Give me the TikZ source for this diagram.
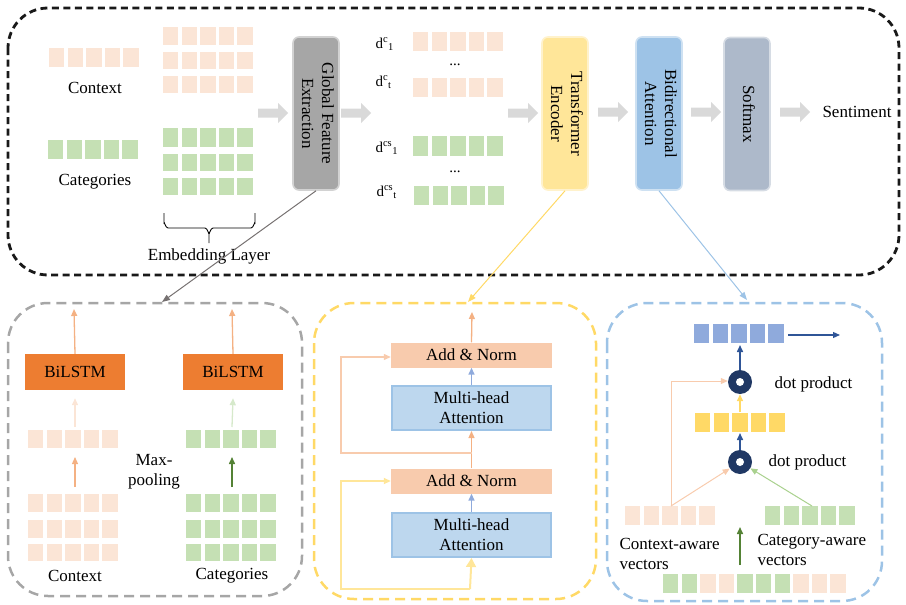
\documentclass[tikz,border=0pt]{standalone}
\usepackage{fontspec}
\setmainfont{Liberation Serif}
\usetikzlibrary{arrows.meta,calc}
\definecolor{cO}{HTML}{FBE5D6}
\definecolor{cG}{HTML}{C5E0B4}
\definecolor{cBi}{HTML}{ED7D31}
\definecolor{cAN}{HTML}{F8CBAD}
\definecolor{cMHA}{HTML}{BDD7EE}
\definecolor{cMHAb}{HTML}{9DC3E6}
\definecolor{cYr}{HTML}{FFD966}
\definecolor{cBr}{HTML}{8FAADC}
\definecolor{cNavyA}{HTML}{2F5597}
\definecolor{cNavy}{HTML}{203864}
\definecolor{cGFE}{HTML}{A6A6A6}
\definecolor{cTE}{HTML}{FFE699}
\definecolor{cBA}{HTML}{9DC3E6}
\definecolor{cSM}{HTML}{ADB9CA}
\definecolor{cArr}{HTML}{D9D9D9}
\definecolor{cOrA}{HTML}{F4B183}
\definecolor{cDG}{HTML}{548235}
\definecolor{cGline}{HTML}{A9D18E}
\definecolor{cGrayLine}{HTML}{767171}
\newcommand\cellrow[5]{\foreach \k in {1,...,#4}{\fill[#3] ({#1+(\k-1)*18.6},#2) rectangle ++(15.4,#5);}}
\newcommand\blockarrow[2]{\fill[cArr] (#1,#2-4.5) -- ++(20,0) -- ++(0,-5.5) -- ++(10,10) -- ++(-10,10) -- ++(0,-5.5) -- ++(-20,0) -- cycle;}
\newcommand\vtext[1]{\rotatebox{-90}{\begin{tabular}{@{}c@{}}#1\end{tabular}}}
\begin{document}
\begin{tikzpicture}[x=1pt,y=-1pt,
  every node/.style={font=\fontsize{17}{20}\selectfont, text=black},
  tall/.style={rounded corners=6pt, minimum width=46pt, minimum height=153pt, inner sep=0pt, line width=1.6pt},
  small/.style={font=\fontsize{15}{18}\selectfont},
  anbox/.style={fill=cAN, minimum width=161pt, minimum height=25pt, inner sep=0pt},
  mhabox/.style={fill=cMHA, draw=cMHAb, line width=2pt, minimum width=159pt, minimum height=44pt, inner sep=0pt, align=center},
  bibox/.style={fill=cBi, minimum width=100pt, minimum height=36pt, inner sep=0pt},
  dot/.style={circle, fill=cNavy, minimum size=24pt, inner sep=0pt},
  tip/.style={-{Triangle[length=7pt,width=6pt]}},
  arOr/.style={tip, draw=cOrA, line width=1.3pt},
  arOrL/.style={tip, draw=cAN, line width=1.2pt},
  arFO/.style={tip, draw=cO, line width=1.3pt},
  arFG/.style={tip, draw=cG!70!white, line width=1.3pt},
  arDG/.style={tip, draw=cDG, line width=1.5pt},
  arBl/.style={tip, draw=cBr, line width=1.5pt},
  arNv/.style={tip, draw=cNavyA, line width=1.5pt},
  arYl/.style={tip, draw=cYr, line width=1.5pt},
  arGl/.style={tip, draw=cGline, line width=1pt},
]
\useasboundingbox (0,0) rectangle (906,605);
% ===== top box =====
\draw[black!90, line width=2.8pt, dash pattern=on 7pt off 4.5pt, rounded corners=40pt] (8,8) rectangle (899,275);
\cellrow{49}{48}{cO}{5}{19}
\cellrow{163}{27}{cO}{5}{18}
\cellrow{163}{52}{cO}{5}{17}
\cellrow{163}{76}{cO}{5}{17}
\cellrow{48}{140}{cG}{5}{19}
\cellrow{163}{128}{cG}{5}{18.5}
\cellrow{163}{154}{cG}{5}{17}
\cellrow{163}{178}{cG}{5}{17}
\node (ctx) at (95,88) {Context};
\node (cat) at (95,182) {Categories};
\draw[line width=0.9pt] (164,213) -- (164,223) to[out=90,in=180] (168,228) -- (205,228) to[out=0,in=-90] (209,233) -- (209,243);
\draw[line width=0.9pt] (209,233) to[out=-90,in=180] (213,228) -- (251,228) to[out=0,in=90] (255,223) -- (255,213);
\node (emb) at (209,256) {Embedding Layer};
\blockarrow{258}{113}
\node[tall, fill=cGFE, draw=cGFE!50!white] (gfe) at (316,113.5) {\vtext{Global Feature\\Extraction}};
\blockarrow{341}{113}
\node[small, anchor=west] (d1) at (372,44) {d\textsuperscript{c}\textsubscript{1}};
\node[small, anchor=west] (d2) at (372,82) {d\textsuperscript{c}\textsubscript{t}};
\node[small, anchor=west] (d3) at (372,148) {d\textsuperscript{cs}\textsubscript{1}};
\node[small, anchor=west] (d4) at (373,192) {d\textsuperscript{cs}\textsubscript{t}};
\cellrow{413}{32}{cO}{5}{19}
\cellrow{413}{78}{cO}{5}{19}
\cellrow{413}{136}{cG}{5}{20}
\cellrow{414}{186}{cG}{5}{19}
\node[small] (el1) at (455,65) {...};
\node[small] (el2) at (455,172) {...};
\blockarrow{508}{113}
\node[tall, fill=cTE, draw=cTE!50!white] (te) at (565,113.5) {\vtext{Transformer\\Encoder}};
\blockarrow{598}{112}
\node[tall, fill=cBA, draw=cBA!50!white] (ba) at (659,113.5) {\vtext{Bidirectional\\Attention}};
\blockarrow{691}{112}
\node[tall, fill=cSM, draw=cSM!50!white] (sm) at (747,114) {\vtext{Softmax}};
\blockarrow{780}{112}
\node (sent) at (857,112) {Sentiment};
% ===== connectors between levels =====
\coordinate (gin) at (162,302);
\coordinate (yin) at (468,302);
\coordinate (bin) at (747,300);
\draw[cGrayLine, line width=1pt, -{Triangle[length=8pt,width=6pt]}] (gfe.south) -- (gin);
\draw[cYr, line width=1pt, -{Triangle[length=8pt,width=6pt]}] (te.south) -- (yin);
\draw[cBA, line width=1pt, -{Triangle[length=8pt,width=6pt]}] (ba.south) -- (bin);
% ===== bottom-left box =====
\draw[cGFE, line width=2.5pt, dash pattern=on 10pt off 6pt, rounded corners=40pt] (8,303) rectangle (302,596);
\node[bibox] (bl1) at (75,372) {BiLSTM};
\node[bibox] (bl2) at (233,372) {BiLSTM};
\cellrow{28}{430}{cO}{5}{18}
\cellrow{28}{494}{cO}{5}{18}
\cellrow{28}{520}{cO}{5}{18}
\cellrow{28}{544}{cO}{5}{17}
\cellrow{186}{430}{cG}{5}{18}
\cellrow{186}{494}{cG}{5}{18}
\cellrow{186}{520}{cG}{5}{18}
\cellrow{186}{544}{cG}{5}{17}
\coordinate (o1) at (74,309);
\coordinate (o2) at (232,309);
\draw[arOr] (bl1.north) -- (o1);
\draw[arOr] (bl2.north) -- (o2);
\coordinate (pl) at (75,427);
\coordinate (pr) at (232,427);
\draw[arFO] (pl) -- ($(bl1.south)+(0,8)$);
\draw[arFG] (pr) -- ($(bl2.south)+(0,8)$);
\coordinate (ql) at (75,487);
\coordinate (ql2) at (75,457);
\coordinate (qr) at (232,487);
\coordinate (qr2) at (232,457);
\draw[arOr] (ql) -- (ql2);
\draw[arDG] (qr) -- (qr2);
\node[align=center] (mp) at (154,472) {Max-\\pooling};
\node (ctx2) at (75,576) {Context};
\node (cat2) at (232,576) {Categories};
% ===== middle box =====
\draw[cYr, line width=2.5pt, dash pattern=on 10pt off 6pt, rounded corners=40pt] (314,303) rectangle (596,599);
\node[anbox] (an1) at (471.5,355) {Add \& Norm};
\node[mhabox] (mha1) at (471.5,408) {Multi-head\\Attention};
\node[anbox] (an2) at (471.5,481) {Add \& Norm};
\node[mhabox] (mha2) at (471.5,535) {Multi-head\\Attention};
\coordinate (eout) at (472,312);
\coordinate (skip1) at (472,453);
\coordinate (ein) at (470,589);
\draw[arOr] (an1.north) -- (eout);
\draw[arBl] (mha1.north) -- (an1.south);
\draw[arBl] (mha2.north) -- (an2.south);
\draw[arOr] (an2.north) -- (mha1.south);
\draw[arOrL] (skip1) -- (341,453) |- ($(an1.west)+(0,2)$);
\draw[cTE, line width=2pt, -{Triangle[length=9pt,width=10pt]}] (ein) -- (mha2.south);
\draw[arYl, draw=cTE, line width=2pt] (ein) -- (341,589) |- (an2.west);
% ===== right box =====
\draw[cBA, line width=2.5pt, dash pattern=on 10pt off 6pt, rounded corners=40pt] (607,303) rectangle (882,601);
\cellrow{694}{324}{cBr}{5}{19}
\cellrow{695}{413}{cYr}{5}{19}
\cellrow{625}{506}{cO}{5}{19}
\cellrow{765}{506}{cG}{5}{19}
\foreach \c [count=\k] in {cG,cG,cO,cO,cG,cG,cG,cO,cO,cO}{\fill[\c] ({663+(\k-1)*18.6},574) rectangle ++(15.4,19);}
\node[dot] (dp1) at (740,382) {};
\node[dot] (dp2) at (740,462) {};
\fill[white] (dp1) circle (4);
\fill[white] (dp2) circle (4);
\node[anchor=west] (dpl1) at (771,384) {dot product};
\node[anchor=west] (dpl2) at (765,462) {dot product};
\coordinate (brow) at (740,345);
\coordinate (yrow) at (740,433);
\coordinate (yrowt) at (740,412);
\coordinate (outa) at (788,335);
\coordinate (outb) at (840,335);
\draw[arNv] (dp1.north) -- (brow);
\draw[arNv] (dp2.north) -- (yrow);
\draw[arYl] (yrowt) -- (dp1.south);
\draw[arNv, line width=1.2pt] (outa) -- (outb);
\coordinate (ow) at (671,506);
\coordinate (gw) at (812,506);
\draw[arOrL, line width=1pt] (ow) -- (dp2);
\draw[arOrL, line width=1pt] (ow) |- ($(dp1.west)+(0,-1)$);
\draw[arGl] (gw) -- (dp2);
\coordinate (dga) at (740,565);
\coordinate (dgb) at (740,527);
\draw[arDG] (dga) -- (dgb);
\node[anchor=west, align=left] (cav) at (616,554) {Context-aware\\vectors};
\node[anchor=west, align=left] (gav) at (754,550) {Category-aware\\vectors};
\end{tikzpicture}
\end{document}
